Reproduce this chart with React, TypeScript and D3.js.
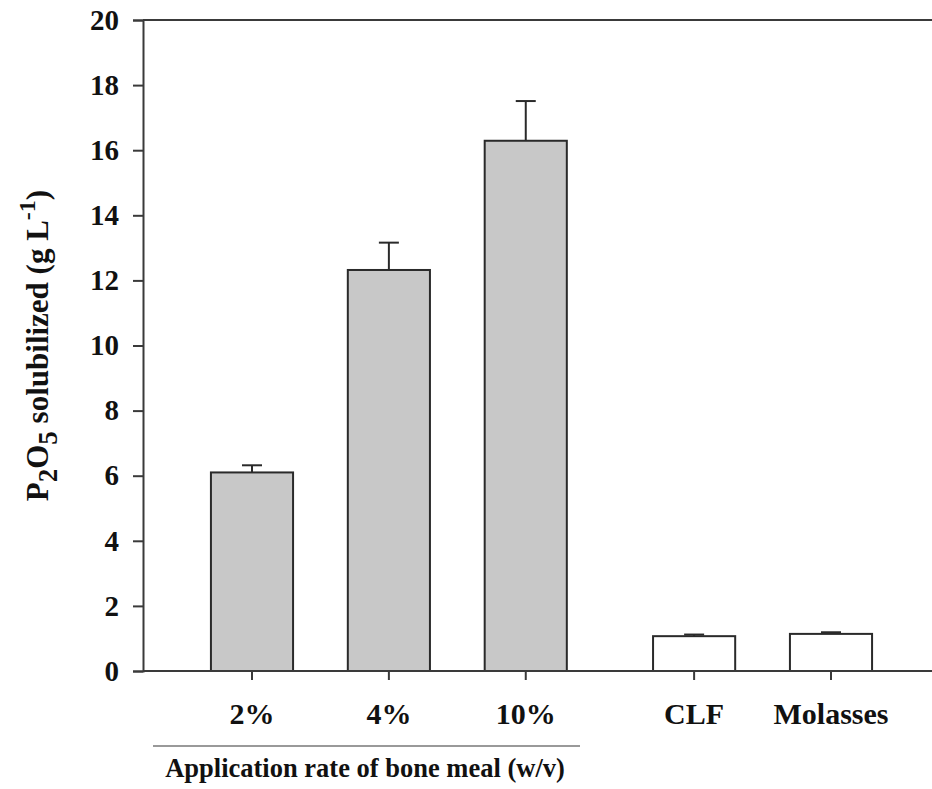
import React, { useEffect, useRef } from "react";
import * as d3 from "d3";

// bar categories, group 0 = bone meal rates, group 1 = controls
const categories = ["2%", "4%", "10%", "CLF", "Molasses"];
const groups = [0, 0, 0, 1, 1];
const values = [6.1, 12.32, 16.29, 1.07, 1.14];
const errors = [0.22, 0.84, 1.22, 0.05, 0.05];
const yTicks = [0, 2, 4, 6, 8, 10, 12, 14, 16, 18, 20];
const groupLabel = "Application rate of bone meal (w/v)";

const FONT = "Liberation Serif, Times New Roman, Times, serif";

const App = () => {
  const svgRef = useRef<SVGSVGElement>(null);

  useEffect(() => {
    if (!svgRef.current) return;
    const width = 932;
    const height = 789;
    const margin = { top: 20, right: 0, bottom: 118, left: 143 };
    const groupGap = 0.23;

    const svg = d3.select(svgRef.current);
    svg.selectAll("*").remove();
    svg
      .attr("width", width)
      .attr("height", height)
      .attr("font-family", FONT)
      .attr("font-weight", "bold");

    const pos = categories.map((_, i) => i + (groups[i] === 1 ? groupGap : 0));

    const yScale = d3
      .scaleLinear()
      .domain([0, 20])
      .range([height - margin.bottom, margin.top]);

    const xScale = d3
      .scaleLinear()
      .domain([0, 4 + groupGap])
      .range([252, 831]);

    const step = xScale(1) - xScale(0);
    const barWidth = step * 0.6;
    const axisColor = "#3a3a3a";

    // bars
    svg
      .selectAll(".bar")
      .data(categories)
      .enter()
      .append("rect")
      .attr("class", "bar")
      .attr("x", (d, i) => xScale(pos[i]) - barWidth / 2)
      .attr("y", (d, i) => yScale(values[i]))
      .attr("width", barWidth)
      .attr("height", (d, i) => yScale(0) - yScale(values[i]))
      .attr("fill", (d, i) => (groups[i] === 0 ? "#c8c8c8" : "#ffffff"))
      .attr("stroke", "#2a2a2a")
      .attr("stroke-width", 2);

    // error bars (upper only)
    const err = svg.append("g").attr("stroke", "#2a2a2a").attr("stroke-width", 2);
    categories.forEach((c, i) => {
      const cx = xScale(pos[i]);
      err
        .append("line")
        .attr("x1", cx)
        .attr("x2", cx)
        .attr("y1", yScale(values[i]))
        .attr("y2", yScale(values[i] + errors[i]));
      err
        .append("line")
        .attr("x1", cx - 10)
        .attr("x2", cx + 10)
        .attr("y1", yScale(values[i] + errors[i]))
        .attr("y2", yScale(values[i] + errors[i]));
    });

    // y axis
    const yAxis = svg
      .append("g")
      .attr("transform", `translate(${margin.left},0)`)
      .call(d3.axisLeft(yScale).tickValues(yTicks).tickSize(10).tickPadding(14));
    yAxis.attr("font-family", FONT).attr("font-size", 29);
    yAxis.select(".domain").attr("stroke", axisColor).attr("stroke-width", 2);
    yAxis.selectAll(".tick line").attr("stroke", axisColor).attr("stroke-width", 2);
    yAxis.selectAll(".tick text").attr("fill", "#111");

    // top frame line
    svg
      .append("line")
      .attr("x1", margin.left)
      .attr("x2", width)
      .attr("y1", yScale(20))
      .attr("y2", yScale(20))
      .attr("stroke", axisColor)
      .attr("stroke-width", 2);

    // x axis
    const xAxis = svg.append("g").attr("transform", `translate(0,${yScale(0)})`);
    xAxis
      .append("line")
      .attr("x1", margin.left)
      .attr("x2", width)
      .attr("stroke", axisColor)
      .attr("stroke-width", 2);
    categories.forEach((c, i) => {
      const cx = xScale(pos[i]);
      xAxis
        .append("line")
        .attr("x1", cx)
        .attr("x2", cx)
        .attr("y1", 0)
        .attr("y2", 9)
        .attr("stroke", axisColor)
        .attr("stroke-width", 2);
      xAxis
        .append("text")
        .attr("x", cx)
        .attr("y", 53)
        .attr("text-anchor", "middle")
        .attr("fill", "#111")
        .attr("font-size", 30)
        .text(c);
    });

    // group underline + label
    svg
      .append("line")
      .attr("x1", 153)
      .attr("x2", 580)
      .attr("y1", 746)
      .attr("y2", 746)
      .attr("stroke", "#999")
      .attr("stroke-width", 2);
    svg
      .append("text")
      .attr("x", 365)
      .attr("y", 777)
      .attr("text-anchor", "middle")
      .attr("fill", "#111")
      .attr("font-size", 26.5)
      .text(groupLabel);

    // y label with sub/superscripts
    const yl = svg
      .append("text")
      .attr("transform", `translate(48,${(yScale(0) + yScale(20)) / 2}) rotate(-90)`)
      .attr("text-anchor", "middle")
      .attr("fill", "#111")
      .attr("font-size", 31);
    yl.append("tspan").text("P");
    yl.append("tspan").attr("dy", 9).attr("font-size", 27).text("2");
    yl.append("tspan").attr("dy", -9).text("O");
    yl.append("tspan").attr("dy", 9).attr("font-size", 27).text("5");
    yl.append("tspan").attr("dy", -9).text(" solubilized (g L");
    yl.append("tspan").attr("dy", -13).attr("font-size", 24).text("-1");
    yl.append("tspan").attr("dy", 13).text(")");
  }, []);

  return (
    <div style={{ position: "absolute", left: 0, top: 0, background: "#fff" }}>
      <svg ref={svgRef} style={{ display: "block" }} />
    </div>
  );
};

export default App;
